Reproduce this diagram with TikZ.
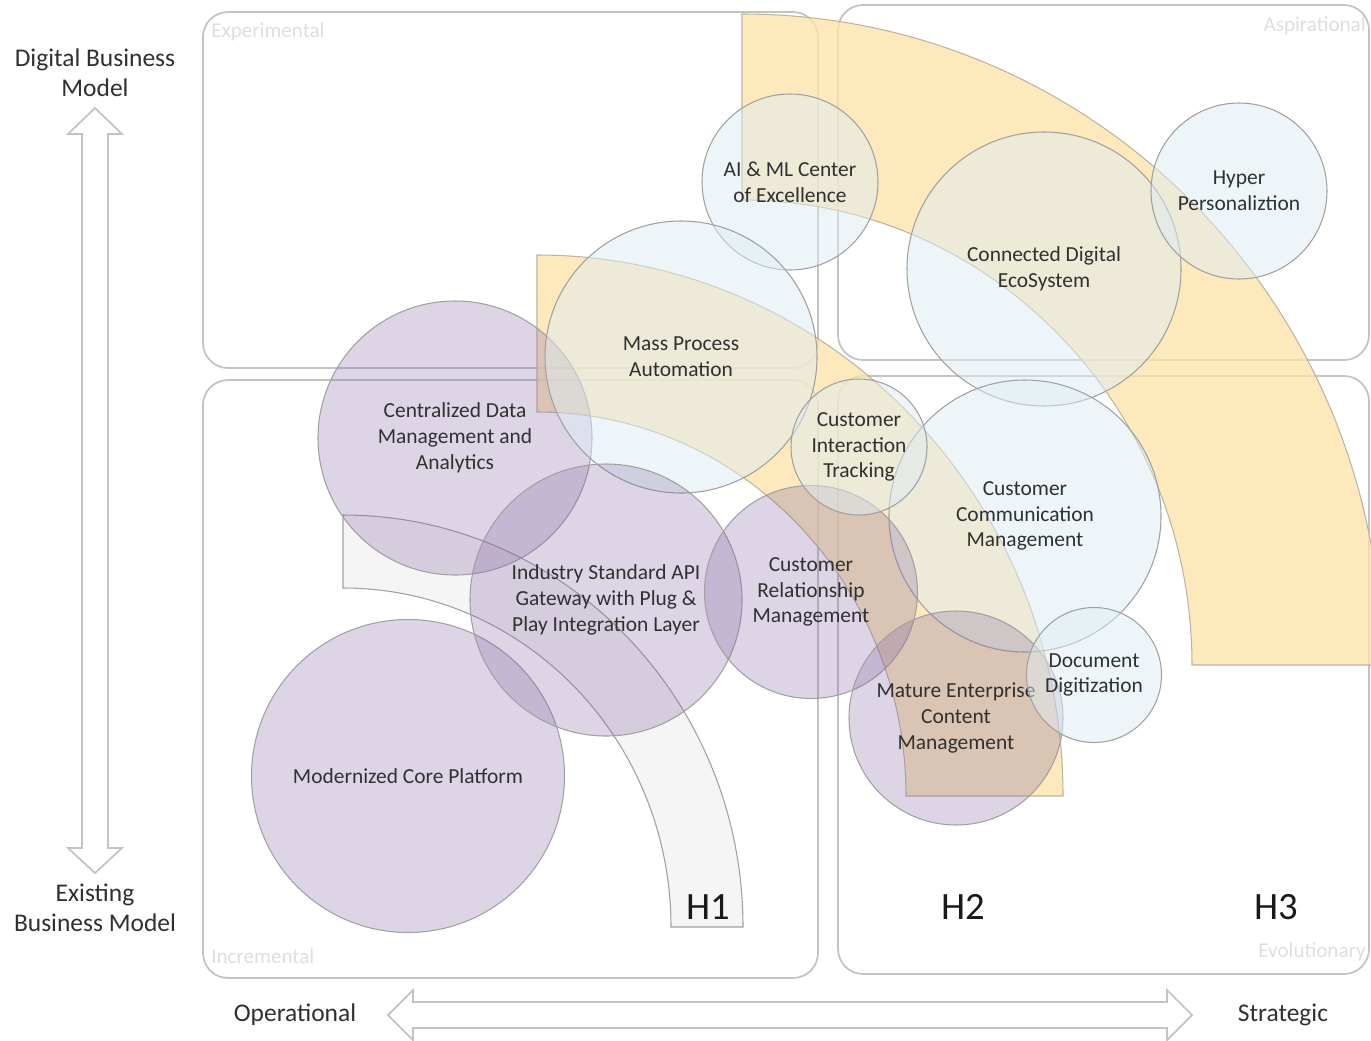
\documentclass[tikz,border=0pt]{standalone}
\usepackage{fontspec}
\setmainfont{Carlito}
\definecolor{txt}{RGB}{48,48,48}
\definecolor{lilac}{RGB}{128,100,162}
\definecolor{skyish}{RGB}{222,236,243}
\definecolor{sand}{RGB}{252,226,166}
\definecolor{rim}{RGB}{160,160,160}
\definecolor{boxline}{RGB}{195,195,195}
\definecolor{faint}{RGB}{222,222,222}
\tikzset{
  quad/.style={draw=boxline,line width=1pt,rounded corners=0.5cm},
  quadname/.style={faint,font=\fontsize{12}{14}\selectfont,inner sep=0},
  band/.style={draw=rim!70!sand,fill=sand,fill opacity=.75,line width=.6pt},
  greyband/.style={draw=rim,fill=black!4,line width=.6pt},
  bubble/.style={circle,draw=rim,line width=.6pt,inner sep=0,
    minimum size=#1*0.2mm,text=txt,text opacity=1,align=center,
    font=\fontsize{12.2}{14.7}\selectfont},
  lilacbubble/.style={bubble=#1,fill=lilac,fill opacity=.27},
  skybubble/.style={bubble=#1,fill=skyish,fill opacity=.5},
  axisname/.style={text=txt,align=center,font=\fontsize{14.5}{17}\selectfont},
  horizon/.style={text=black!90,font=\fontsize{22}{26}\selectfont},
  hollow/.style={draw=boxline,line width=1pt,fill=white}
}

\begin{document}
\begin{tikzpicture}[x=0.2mm,y=-0.2mm]
  \useasboundingbox (0,0) rectangle (1371,1040);

  % quadrants
  \draw[quad] (203,12) rectangle (818,368);
  \draw[quad] (838,5) rectangle (1369,360);
  \draw[quad] (203,380) rectangle (818,978);
  \draw[quad] (838,376) rectangle (1369,974);
  \node[quadname,anchor=west] (exp) at (211,32) {Experimental};
  \node[quadname,anchor=east] (asp) at (1366,26) {Aspirational};
  \node[quadname,anchor=west] (inc) at (211,956) {Incremental};
  \node[quadname,anchor=east] (evo) at (1366,952) {Evolutionary};

  % horizons
  \draw[band] (742,14) arc[start angle=270,end angle=360,x radius=640,y radius=651]
    -- (1192,665) arc[start angle=0,end angle=-90,x radius=450,y radius=465] -- cycle;
  \draw[band] (537,255) arc[start angle=270,end angle=360,x radius=526,y radius=541]
    -- (906,796) arc[start angle=0,end angle=-90,x radius=369,y radius=384] -- cycle;
  \draw[greyband] (343,515) arc[start angle=270,end angle=360,x radius=400,y radius=412]
    -- (671,927) arc[start angle=0,end angle=-90,x radius=328,y radius=339] -- cycle;
  \node[horizon] (h1) at (708,907) {H1};
  \node[horizon] (h2) at (963,907) {H2};
  \node[horizon] (h3) at (1276,907) {H3};

  % initiatives
  \node[skybubble=176] (aiml) at (790,182) {AI \& ML Center\\of Excellence};
  \node[skybubble=274] (cde) at (1044,269) {Connected Digital\\EcoSystem};
  \node[skybubble=176] (hyper) at (1239,191) {Hyper\\Personaliztion};
  \node[skybubble=272] (ccm) at (1025,516) {Customer\\Communication\\Management};
  \node[lilacbubble=274] (cdm) at (455,438) {Centralized Data\\Management and\\Analytics};
  \node[skybubble=272] (mpa) at (681,357) {Mass Process\\Automation};
  \node[lilacbubble=313] (core) at (408,776) {Modernized Core Platform};
  \node[lilacbubble=272] (api) at (606,600) {Industry Standard API\\Gateway with Plug \&\\Play Integration Layer};
  \node[lilacbubble=213] (crm) at (811,592) {Customer\\Relationship\\Management};
  \node[skybubble=136] (cit) at (859,447) {Customer\\Interaction\\Tracking};
  \node[lilacbubble=214] (ecm) at (956,718) {Mature Enterprise\\Content\\Management};
  \node[skybubble=135] (doc) at (1094,675) {Document\\Digitization};

  % axes
  \draw[hollow] (95,108) -- (122,134) -- (108,134) -- (108,848) -- (122,848) -- (95,873)
    -- (68,848) -- (82,848) -- (82,134) -- (68,134) -- cycle;
  \draw[hollow] (388,1015) -- (413,990) -- (413,1002) -- (1167,1002) -- (1167,990) -- (1192,1015)
    -- (1167,1040) -- (1167,1028) -- (413,1028) -- (413,1040) -- cycle;
  \node[axisname] (dbm) at (95,73) {Digital Business\\Model};
  \node[axisname] (ebm) at (95,908) {Existing\\Business Model};
  \node[axisname] (ops) at (295,1015) {Operational};
  \node[axisname] (str) at (1283,1015) {Strategic};
\end{tikzpicture}
\end{document}
